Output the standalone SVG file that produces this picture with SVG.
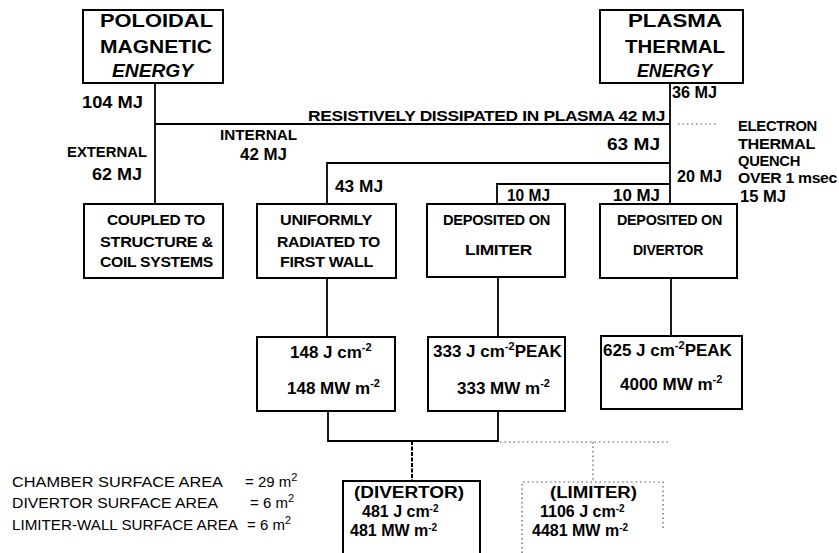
<svg xmlns="http://www.w3.org/2000/svg" width="839" height="553" viewBox="0 0 839 553">
<style>
.box{fill:none;stroke:#000;stroke-width:2}
.ln{fill:none;stroke:#000;stroke-width:1.8}
.dash{fill:none;stroke:#000;stroke-width:2;stroke-dasharray:4 1.5}
.dot{fill:none;stroke:#555;stroke-width:1.2;stroke-dasharray:1.5 3}
text{font-family:"Liberation Sans",Arial,sans-serif;fill:#000}
.h{font-size:19px;font-weight:bold}
.b{font-size:16px;font-weight:bold}
.s{font-size:15px;font-weight:bold}
.m{font-size:17px;font-weight:bold}
.k{font-size:16px;font-weight:bold}
.r{font-size:15px;font-weight:bold;letter-spacing:-0.3px}
.n{font-size:15px}
.sup{font-size:11px}
.sp{font-size:10px}
</style>
<rect width="839" height="553" fill="#fff"/>
<g id="connectors">
<path class="ln" d="M155,83V204"/>
<path class="ln" d="M155,124H670"/>
<path class="ln" d="M670,83V204"/>
<path class="ln" d="M327,204V163H670"/>
<path class="ln" d="M497,204V184H670"/>
<path class="ln" d="M327,278V337"/>
<path class="ln" d="M498,277V337"/>
<path class="ln" d="M671,278V336"/>
<path class="ln" d="M328,411V441H498V411"/>
<path class="dash" d="M412,441V481"/>
<path class="dot" d="M678,124H718"/>
<path class="dot" d="M500,442H668"/>
<path class="dot" d="M593,442V482"/>
</g>
<g id="poloidal">
<rect class="box" x="83" y="10" width="140" height="73"/>
<text class="h" x="100" y="27" textLength="113" lengthAdjust="spacingAndGlyphs">POLOIDAL</text>
<text class="h" x="100" y="53" textLength="112" lengthAdjust="spacingAndGlyphs">MAGNETIC</text>
<text class="h" x="112" y="77" font-style="italic" textLength="81" lengthAdjust="spacingAndGlyphs">ENERGY</text>
</g>
<g id="plasma">
<rect class="box" x="600" y="10" width="143" height="73"/>
<text class="h" x="628" y="27" textLength="94" lengthAdjust="spacingAndGlyphs">PLASMA</text>
<text class="h" x="625" y="53" textLength="100" lengthAdjust="spacingAndGlyphs">THERMAL</text>
<text class="h" x="637" y="77" font-style="italic" textLength="75" lengthAdjust="spacingAndGlyphs">ENERGY</text>
</g>
<g id="labels">
<text class="b" x="82" y="108" textLength="61" lengthAdjust="spacingAndGlyphs">104 MJ</text>
<text class="s" x="67" y="157" textLength="80" lengthAdjust="spacingAndGlyphs">EXTERNAL</text>
<text class="b" x="92" y="180" textLength="50" lengthAdjust="spacingAndGlyphs">62 MJ</text>
<text class="s" x="220" y="140" textLength="77" lengthAdjust="spacingAndGlyphs">INTERNAL</text>
<text class="b" x="240" y="160" textLength="47" lengthAdjust="spacingAndGlyphs">42 MJ</text>
<text class="r" x="308" y="121" textLength="357" lengthAdjust="spacingAndGlyphs">RESISTIVELY DISSIPATED IN PLASMA 42 MJ</text>
<text class="b" x="335" y="192" textLength="48" lengthAdjust="spacingAndGlyphs">43 MJ</text>
<text class="b" x="607" y="150" textLength="53" lengthAdjust="spacingAndGlyphs">63 MJ</text>
<text class="b" x="672" y="98" textLength="45" lengthAdjust="spacingAndGlyphs">36 MJ</text>
<text class="b" x="677" y="182" textLength="45" lengthAdjust="spacingAndGlyphs">20 MJ</text>
<text class="b" x="507" y="201" textLength="43" lengthAdjust="spacingAndGlyphs">10 MJ</text>
<text class="b" x="613" y="201" textLength="47" lengthAdjust="spacingAndGlyphs">10 MJ</text>
<text class="r" x="738" y="131" textLength="79" lengthAdjust="spacingAndGlyphs">ELECTRON</text>
<text class="r" x="738" y="149" textLength="77" lengthAdjust="spacingAndGlyphs">THERMAL</text>
<text class="r" x="738" y="166" textLength="62" lengthAdjust="spacingAndGlyphs">QUENCH</text>
<text class="r" x="738" y="183" textLength="99" lengthAdjust="spacingAndGlyphs">OVER 1 msec</text>
<text class="b" x="740" y="202" textLength="46" lengthAdjust="spacingAndGlyphs">15 MJ</text>
</g>
<g id="coupled">
<rect class="box" x="84" y="204" width="139" height="74"/>
<text class="r" x="107" y="225" textLength="98" lengthAdjust="spacingAndGlyphs">COUPLED TO</text>
<text class="r" x="100" y="247" textLength="113" lengthAdjust="spacingAndGlyphs">STRUCTURE &amp;</text>
<text class="r" x="100" y="267" textLength="113" lengthAdjust="spacingAndGlyphs">COIL SYSTEMS</text>
</g>
<g id="uniformly">
<rect class="box" x="257" y="204" width="139" height="74"/>
<text class="r" x="280" y="225" textLength="92" lengthAdjust="spacingAndGlyphs">UNIFORMLY</text>
<text class="r" x="277" y="247" textLength="103" lengthAdjust="spacingAndGlyphs">RADIATED TO</text>
<text class="r" x="280" y="267" textLength="93" lengthAdjust="spacingAndGlyphs">FIRST WALL</text>
</g>
<g id="limiter">
<rect class="box" x="427" y="204" width="138" height="73"/>
<text class="r" x="443" y="225" textLength="107" lengthAdjust="spacingAndGlyphs">DEPOSITED ON</text>
<text class="r" x="465" y="255" textLength="67" lengthAdjust="spacingAndGlyphs">LIMITER</text>
</g>
<g id="divertor">
<rect class="box" x="600" y="204" width="137" height="74"/>
<text class="r" x="617" y="225" textLength="105" lengthAdjust="spacingAndGlyphs">DEPOSITED ON</text>
<text class="r" x="633" y="255" textLength="70" lengthAdjust="spacingAndGlyphs">DIVERTOR</text>
</g>
<g id="wall-flux">
<rect class="box" x="257" y="337" width="138" height="74"/>
<text class="m" x="290" y="358">148 J  cm<tspan class="sup" dy="-7">-2</tspan></text>
<text class="m" x="287" y="394">148 MW m<tspan class="sup" dy="-7">-2</tspan></text>
</g>
<g id="limiter-flux">
<rect class="box" x="428" y="337" width="137" height="74"/>
<text class="m" x="433" y="357">333 J cm<tspan class="sup" dy="-7">-2</tspan><tspan dy="7">PEAK</tspan></text>
<text class="m" x="457" y="394">333 MW m<tspan class="sup" dy="-7">-2</tspan></text>
</g>
<g id="divertor-flux">
<rect class="box" x="601" y="336" width="141" height="73"/>
<text class="m" x="603" y="356">625 J cm<tspan class="sup" dy="-7">-2</tspan><tspan dy="7">PEAK</tspan></text>
<text class="m" x="620" y="390">4000 MW m<tspan class="sup" dy="-7">-2</tspan></text>
</g>
<g id="divertor-total">
<path class="box" d="M343,560V481H480V560"/>
<text class="k" x="354" y="498" textLength="110" lengthAdjust="spacingAndGlyphs">(DIVERTOR)</text>
<text class="k" x="362" y="517">481 J cm<tspan class="sp" dy="-5">-2</tspan></text>
<text class="k" x="350" y="536">481 MW m<tspan class="sp" dy="-5">-2</tspan></text>
</g>
<g id="limiter-total">
<path class="dot" d="M522,553V482H663V530"/>
<text class="k" x="550" y="498" textLength="87" lengthAdjust="spacingAndGlyphs">(LIMITER)</text>
<text class="k" x="540" y="517">1106 J  cm<tspan class="sp" dy="-5">-2</tspan></text>
<text class="k" x="532" y="536">4481 MW m<tspan class="sp" dy="-5">-2</tspan></text>
</g>
<g id="legend">
<text class="n" x="12" y="487" textLength="211" lengthAdjust="spacingAndGlyphs">CHAMBER SURFACE AREA</text>
<text class="n" x="245" y="487">= 29 m<tspan class="sup" dy="-6">2</tspan></text>
<text class="n" x="12" y="508" textLength="206" lengthAdjust="spacingAndGlyphs">DIVERTOR SURFACE AREA</text>
<text class="n" x="250" y="508">= 6 m<tspan class="sup" dy="-6">2</tspan></text>
<text class="n" x="12" y="530" textLength="226" lengthAdjust="spacingAndGlyphs">LIMITER-WALL SURFACE AREA</text>
<text class="n" x="247" y="530">= 6 m<tspan class="sup" dy="-6">2</tspan></text>
</g>
</svg>
